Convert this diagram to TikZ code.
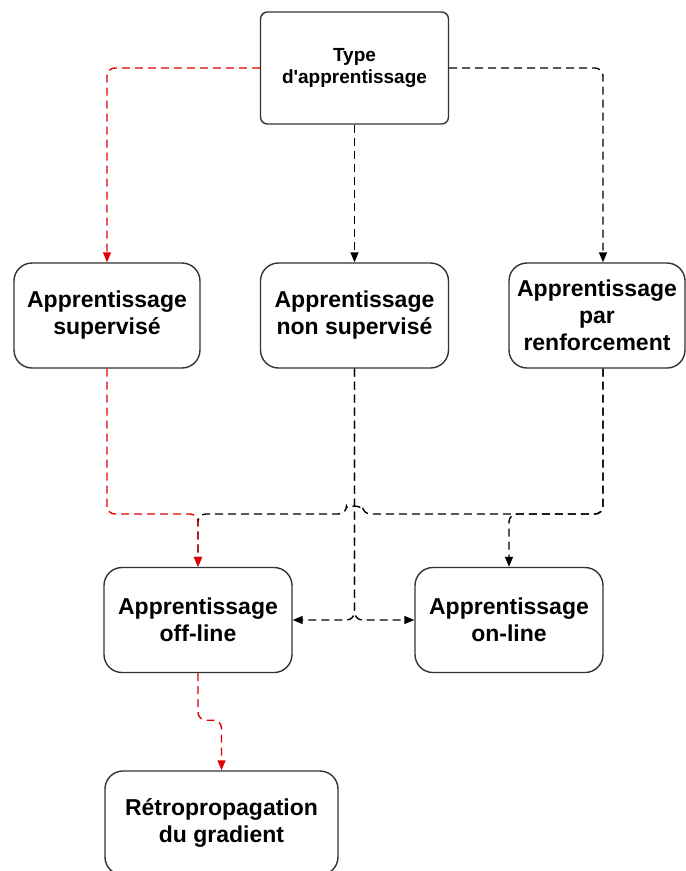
\documentclass[tikz,border=0pt]{standalone}
\usepackage{fontspec}
\setmainfont{Liberation Sans}
\usetikzlibrary{arrows.meta,calc}
\definecolor{edgered}{HTML}{E00000}
\definecolor{boxline}{HTML}{333333}
\begin{document}
\begin{tikzpicture}[x=1pt,y=-1pt,
  box/.style={draw=boxline, line width=1.4pt, rounded corners=18pt,
    minimum width=188pt, minimum height=105pt, inner sep=0pt, align=center,
    font=\bfseries\fontsize{23}{27}\selectfont},
  conn/.style={draw=black, dash pattern=on 8pt off 5pt, line width=1.4pt,
    rounded corners=8pt, -{Triangle[length=10pt,width=8pt]}},
  redconn/.style={conn, draw=edgered}
]
\useasboundingbox (0,0) rectangle (686,871);

% boxes
\node[box, rounded corners=7pt, minimum height=112pt,
      font=\bfseries\fontsize{19}{22}\selectfont] (type) at (354.5,68) {Type\\d\textquotesingle apprentissage};
\node[box, minimum width=186pt] (sup) at (107,315.5) {Apprentissage\\supervisé};
\node[box] (nsup) at (354.5,315.5) {Apprentissage\\non supervisé};
\node[box, minimum width=176pt] (renf) at (597,315.5) {Apprentissage\\par\\renforcement};
\node[box] (off) at (198,620) {Apprentissage\\off-line};
\node[box] (on) at (509,620) {Apprentissage\\on-line};
\node[box, minimum width=233pt, minimum height=104pt] (retro) at (221.5,823) {Rétropropagation\\du gradient};

% lanes
\coordinate (rx) at (603,0);
\coordinate (hy) at (0,514);

% black connectors
\draw[conn] (type.south) -- (nsup.north);
\draw[conn] (type.east) -| (rx |- renf.north);
\draw[conn] (rx |- renf.south) -- (rx |- hy)
   -- ($(nsup.south |- hy)+(8,0)$) arc[start angle=0, end angle=-180, radius=8]
   -- (off.north |- hy) -- (off.north);
\draw[conn] (rx |- renf.south) -- (rx |- hy) -| (on.north);
\draw[conn] (nsup.south) |- (off.east);
\draw[conn] (nsup.south) |- (on.west);

% red connectors
\draw[redconn] (type.west) -| (sup.north);
\draw[redconn] (sup.south) -- (sup.south |- hy) -| (off.north);
\draw[redconn] (off.south) -- ++(0,47) -| (retro.north);
\end{tikzpicture}
\end{document}
